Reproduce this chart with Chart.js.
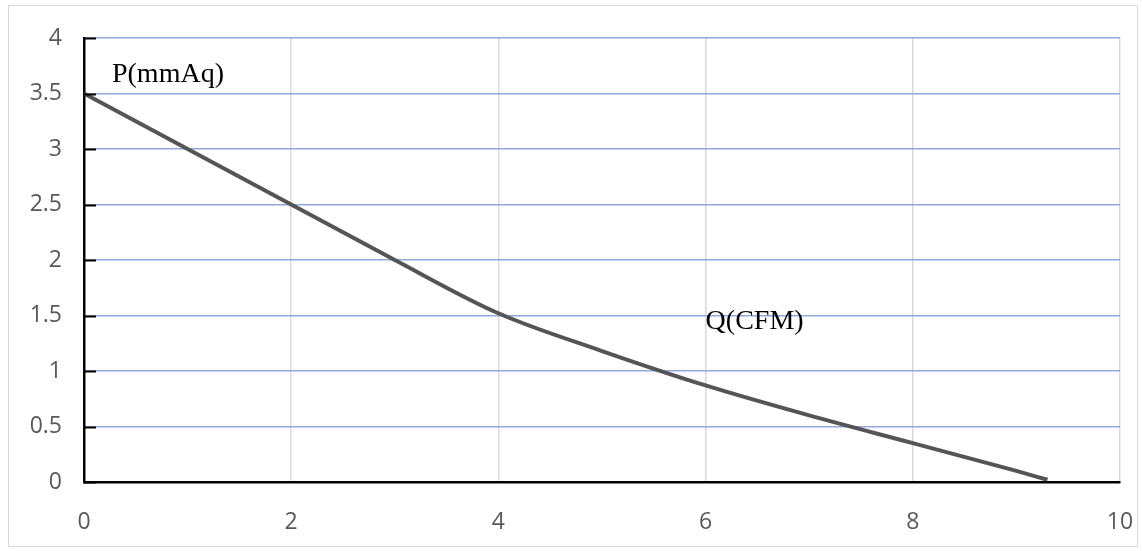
<!DOCTYPE html>
<html>
<head>
<meta charset="utf-8">
<script src="https://cdn.jsdelivr.net/npm/chart.js@4"></script>
<style>
    html, body { margin: 0; padding: 0; background: #ffffff; }
    #wrap { position: relative; width: 1142px; height: 551px; }
    #frame {
        position: absolute; left: 8px; top: 5px; width: 1128px; height: 540px;
        border: 1px solid #d9d9d9; pointer-events: none;
    }
</style>
</head>
<body>
<div id="wrap">
    <canvas id="pqChart" width="1142" height="551"></canvas>
    <div id="frame"></div>
</div>
<script>
// Fan curve: airflow Q (CFM) vs static pressure P (mmAq)
const flowQ = [0, 1, 2, 3, 4, 5, 6, 7, 8, 9, 9.3];
const pressureP = [3.5, 3.0, 2.5, 2.0, 1.52, 1.18, 0.87, 0.6, 0.35, 0.1, 0.02];

const xTicks = [0, 2, 4, 6, 8, 10];
const yTicks = [0, 0.5, 1, 1.5, 2, 2.5, 3, 3.5, 4];

// axis captions placed in data units
const captionText = ['P(mmAq)', 'Q(CFM)'];
const captionQ = [0.27, 6.0];
const captionP = [3.6, 1.38];

const tickFont = { family: "'Open Sans', 'Noto Sans', sans-serif", size: 23 };

// short black ticks drawn inside the y axis, plus the captions
const extrasPlugin = {
    id: 'extras',
    afterDatasetsDraw(chart) {
        const { ctx, scales: { x, y } } = chart;
        ctx.save();
        ctx.strokeStyle = '#000000';
        ctx.lineWidth = 2;
        yTicks.forEach(v => {
            const py = Math.round(y.getPixelForValue(v)) + 0.5;
            ctx.beginPath();
            ctx.moveTo(x.left, py);
            ctx.lineTo(x.left + 12, py);
            ctx.stroke();
        });
        ctx.fillStyle = '#000000';
        ctx.font = "28px 'Liberation Serif', 'Times New Roman', serif";
        ctx.textBaseline = 'alphabetic';
        ctx.textAlign = 'left';
        captionText.forEach((t, i) => {
            ctx.fillText(t, x.getPixelForValue(captionQ[i]), y.getPixelForValue(captionP[i]));
        });
        ctx.restore();
    }
};

const ctx = document.getElementById('pqChart').getContext('2d');
new Chart(ctx, {
    type: 'scatter',
    data: {
        datasets: [{
            label: 'P-Q',
            data: flowQ.map((q, i) => ({ x: q, y: pressureP[i] })),
            showLine: true,
            borderColor: '#555555',
            borderWidth: 4,
            pointRadius: 0,
            cubicInterpolationMode: 'monotone',
            fill: false
        }]
    },
    options: {
        responsive: false,
        animation: false,
        devicePixelRatio: 1,
        layout: { padding: { left: 0, right: 22, top: 38, bottom: 0 } },
        plugins: {
            legend: { display: false },
            tooltip: { enabled: false }
        },
        scales: {
            x: {
                type: 'linear',
                min: 0,
                max: 10,
                afterBuildTicks: s => { s.ticks = xTicks.map(v => ({ value: v })); },
                afterFit: s => { s.height = 69; s.paddingLeft = 0; s.paddingRight = 0; },
                ticks: { font: tickFont, color: '#595959', padding: 27, maxRotation: 0, callback: v => String(v) },
                grid: { color: '#d9d9d9', lineWidth: 1.5, drawTicks: false },
                border: { color: '#000000', width: 2.5 }
            },
            y: {
                type: 'linear',
                min: 0,
                max: 4,
                afterBuildTicks: s => { s.ticks = yTicks.map(v => ({ value: v })); },
                afterFit: s => { s.width = 84; s.paddingTop = 0; s.paddingBottom = 0; },
                ticks: { font: tickFont, color: '#595959', padding: 22, callback: v => String(v) },
                grid: { color: '#8eaadb', lineWidth: 1.5, drawTicks: false },
                border: { color: '#000000', width: 2.5 }
            }
        }
    },
    plugins: [extrasPlugin]
});
</script>
</body>
</html>
